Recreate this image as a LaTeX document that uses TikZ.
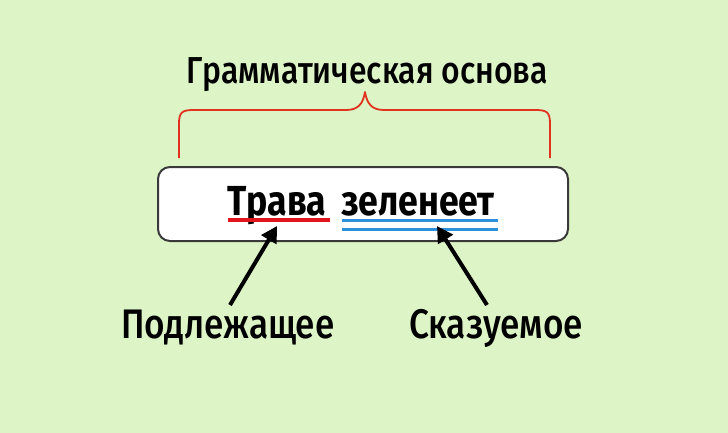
\documentclass[tikz,border=0pt]{standalone}
\usepackage{fontspec}
\setmainfont{Fira Sans}[FakeStretch=0.85]
\newfontfamily\medfont{Fira Sans Medium}[FakeStretch=0.85]
\usetikzlibrary{arrows.meta}
\definecolor{bg}{HTML}{DDF5C6}
\definecolor{bracered}{HTML}{E0321E}
\definecolor{ulred}{HTML}{E3141B}
\definecolor{ulblue}{HTML}{2E8FDB}
\definecolor{boxline}{HTML}{3A3A3A}
\tikzset{
  lbl/.style={inner sep=0pt, text=black},
  ptr/.style={line width=4pt, -{Triangle[length=16pt,width=17pt]}, black},
}
\begin{document}
\begin{tikzpicture}[x=1pt,y=-1pt]
\fill[bg] (0,0) rectangle (728,433);
\useasboundingbox (0,0) rectangle (728,433);
% title
\node[lbl, font=\medfont\fontsize{37.5}{40}\selectfont, anchor=base] (title) at (367,84) {Грамматическая основа};
% brace
\coordinate (bl) at (179,158);
\coordinate (br) at (550,158);
\coordinate (tip) at (365,92);
\draw[bracered, line width=1.8pt, line join=round]
  (bl) -- (179,124) .. controls (179,112) and (182,110) .. (194,110)
  -- (346,110) .. controls (358,110) and (363,104) .. (tip)
  .. controls (367,104) and (372,110) .. (384,110)
  -- (535,110) .. controls (547,110) and (550,112) .. (550,124) -- (br);
% box
\node[draw=boxline, line width=2pt, fill=white, rounded corners=12pt, minimum width=410pt, minimum height=74pt, inner sep=0pt] (box) at (363,204) {};
\node[lbl, font=\bfseries\fontsize{42}{44}\selectfont, anchor=base west] (w1) at (227,215) {Трава};
\node[lbl, font=\bfseries\fontsize{42}{44}\selectfont, anchor=base west] (w2) at (341,215) {зеленеет};
\draw[ulred, line width=3.2pt] (228,220) -- (330,220);
\draw[ulblue, line width=3pt] (342,220.5) -- (498,220.5);
\draw[ulblue, line width=3pt] (342,229) -- (498,229);
% labels
\node[lbl, font=\medfont\fontsize{41.3}{44}\selectfont, anchor=base west] (subj) at (121,338) {Подлежащее};
\node[lbl, font=\medfont\fontsize{41.3}{44}\selectfont, anchor=base west] (pred) at (409,338) {Сказуемое};
\coordinate (a1s) at (230,305);
\coordinate (a1e) at (277,226);
\coordinate (a2s) at (487,305);
\coordinate (a2e) at (437,226);
\draw[ptr] (a1s) -- (a1e);
\draw[ptr] (a2s) -- (a2e);
\end{tikzpicture}
\end{document}
